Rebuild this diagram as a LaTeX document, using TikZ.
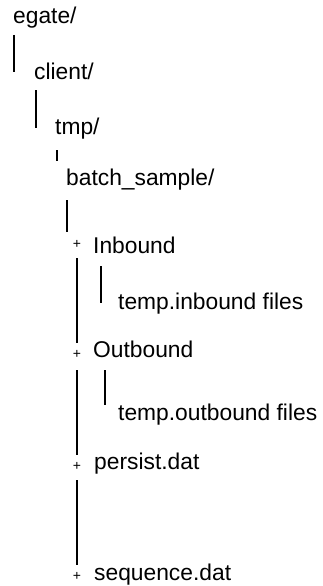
\documentclass[tikz,border=0pt]{standalone}
\usepackage{fontspec}
\setmainfont{Liberation Sans}
\begin{document}
\begin{tikzpicture}[x=1pt,y=-1pt,
  entry/.style={anchor=base west,inner sep=0pt,font=\fontsize{22.8}{27}\selectfont},
  plusmark/.style={inner sep=0pt,font=\fontsize{14}{16}\selectfont},
  branch/.style={draw=black,line width=1.2pt}]
\useasboundingbox[fill=white] (0,0) rectangle (323,586);
% entries
\node[entry] (egate) at (13,23.5) {egate/};
\node[entry] (client) at (34,79) {client/};
\node[entry] (tmp) at (55,134) {tmp/};
\node[entry] (batch) at (66,185) {batch\_sample/};
\node[entry] (inb) at (93,253) {Inbound};
\node[entry] (tinb) at (118,309) {temp.inbound files};
\node[entry] (outb) at (93,357) {Outbound};
\node[entry] (toutb) at (118,420) {temp.outbound files};
\node[entry] (persist) at (94,469) {persist.dat};
\node[entry] (seq) at (94,580) {sequence.dat};
% plus marks
\node[plusmark] (p1) at (77,244) {+};
\node[plusmark] (p2) at (77,354) {+};
\node[plusmark] (p3) at (77,466) {+};
\node[plusmark] (p4) at (77,576) {+};
% branch lines
\coordinate (a1) at (14,35);  \coordinate (a2) at (14,72);
\coordinate (b1) at (36,90);  \coordinate (b2) at (36,128);
\coordinate (c1) at (57,150); \coordinate (c2) at (57,161);
\coordinate (d1) at (67,200); \coordinate (d2) at (67,232);
\coordinate (e1) at (77,258); \coordinate (e2) at (77,343);
\coordinate (f1) at (101,266); \coordinate (f2) at (101,303);
\coordinate (g1) at (77,370); \coordinate (g2) at (77,455);
\coordinate (h1) at (105,370); \coordinate (h2) at (105,405);
\coordinate (i1) at (77,480); \coordinate (i2) at (77,565);
\draw[branch] (a1) -- (a2);
\draw[branch] (b1) -- (b2);
\draw[branch] (c1) -- (c2);
\draw[branch] (d1) -- (d2);
\draw[branch] (e1) -- (e2);
\draw[branch] (f1) -- (f2);
\draw[branch] (g1) -- (g2);
\draw[branch] (h1) -- (h2);
\draw[branch] (i1) -- (i2);
\end{tikzpicture}
\end{document}
